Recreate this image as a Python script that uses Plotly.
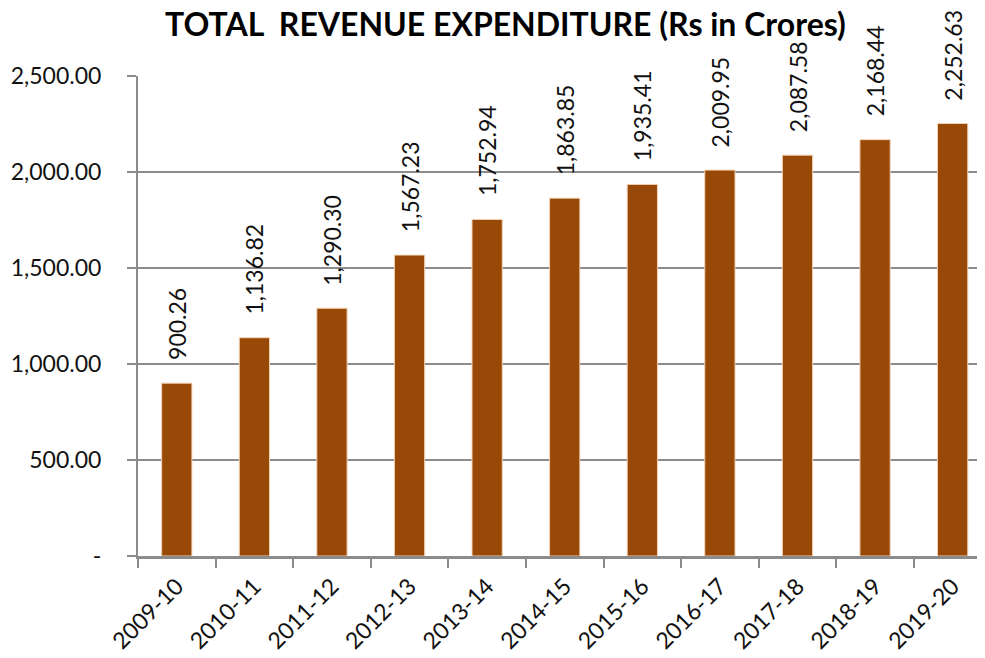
import plotly.graph_objects as go

years = ["2009-10", "2010-11", "2011-12", "2012-13", "2013-14", "2014-15",
         "2015-16", "2016-17", "2017-18", "2018-19", "2019-20"]
expenditure = [900.26, 1136.82, 1290.30, 1567.23, 1752.94, 1863.85,
               1935.41, 2009.95, 2087.58, 2168.44, 2252.63]
y_ticks = [0, 500, 1000, 1500, 2000, 2500]
y_tick_text = ["-", "500.00", "1,000.00", "1,500.00", "2,000.00", "2,500.00"]

main_font = "Lato"
bar_color = "#984807"
axis_color = "#8c8c8c"

fig = go.Figure()
fig.add_trace(go.Bar(x=years, y=expenditure, width=0.39,
                     marker=dict(color=bar_color, line=dict(color="#f2d2b4", width=1))))

# rotated data labels above each bar
for yr, val in zip(years, expenditure):
    fig.add_annotation(x=yr, y=val, text=f"{val:,.2f}", textangle=-90,
                       yanchor="bottom", yshift=21, showarrow=False,
                       font=dict(family=main_font, size=23, color="#111111"))

fig.update_layout(
    width=985, height=658,
    margin=dict(l=130, r=0, t=68, b=110),
    plot_bgcolor="white", paper_bgcolor="white",
    showlegend=False,
    font=dict(family=main_font, size=22, color="#111111"),
    title=dict(text="<b>TOTAL  REVENUE EXPENDITURE (Rs in Crores)</b>",
               x=0.505, xanchor="center", y=0.975, yanchor="middle",
               font=dict(family=main_font, size=32, color="#000000")),
)
fig.update_xaxes(type="category", range=[-0.5, 10.52], tickangle=-45, tickson="boundaries",
                 ticks="outside", ticklen=9, tickwidth=2, tickcolor=axis_color,
                 ticklabelstandoff=5,
                 showline=True, linecolor=axis_color, linewidth=2.5, automargin=False,
                 tickfont=dict(family=main_font, size=23, color="#111111"))
fig.update_yaxes(range=[0, 2500], tickvals=y_ticks, ticktext=y_tick_text,
                 ticks="outside", ticklen=9, tickwidth=2, tickcolor=axis_color,
                 ticklabelstandoff=21, automargin=False,
                 showline=True, linecolor=axis_color, linewidth=2,
                 showgrid=True, gridcolor=axis_color, gridwidth=2,
                 zeroline=False,
                 tickfont=dict(family=main_font, size=23, color="#111111"))

fig.write_html("out.html")
